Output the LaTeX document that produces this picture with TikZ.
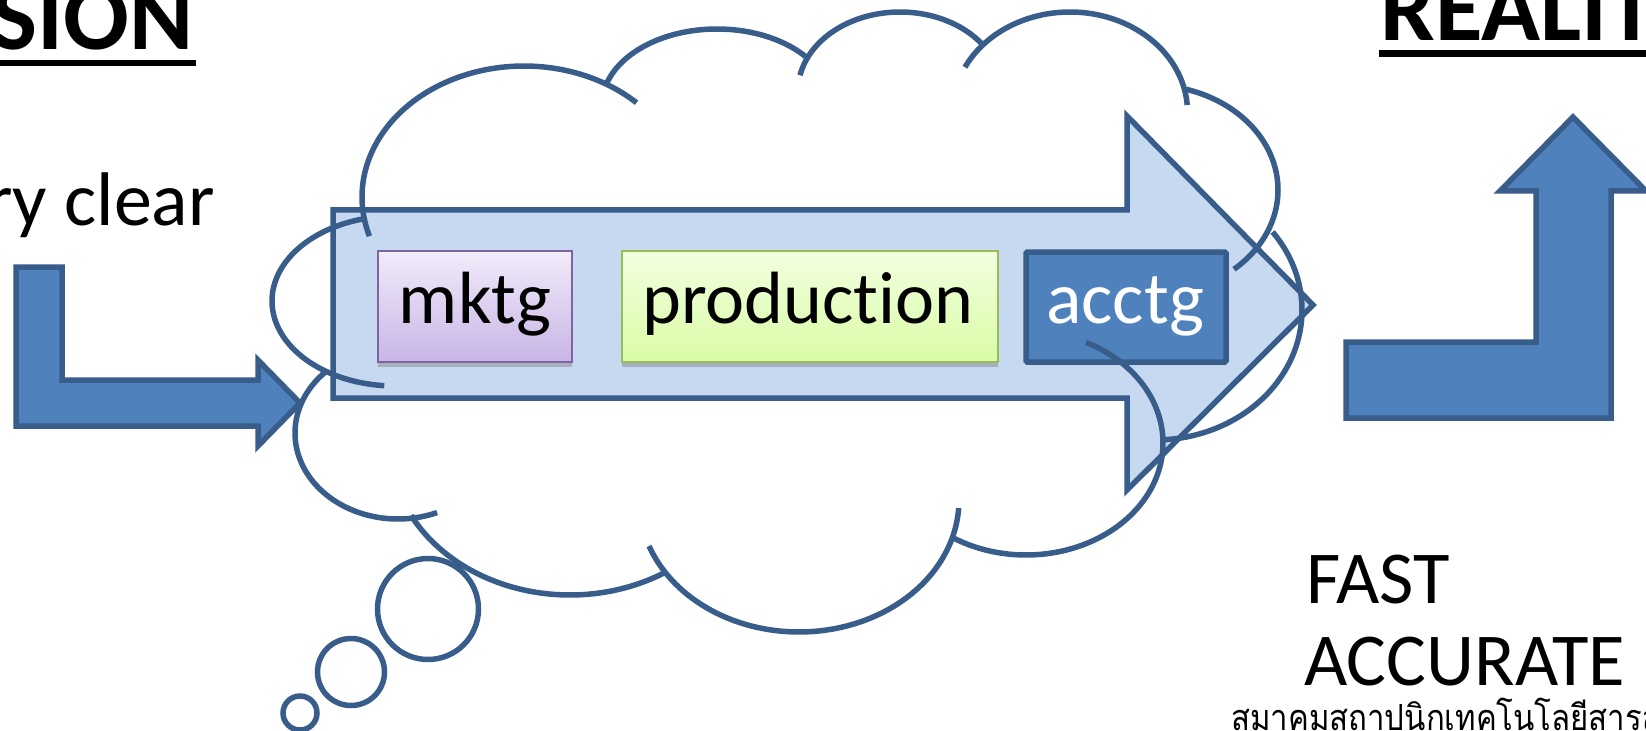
\documentclass[tikz,border=0pt]{standalone}
\usepackage{fontspec}
\setmainfont[Ligatures=NoCommon]{Carlito}
\newfontfamily\thaifont[Script=Thai,FakeStretch=0.865]{Loma}
\usetikzlibrary{shadows}
\definecolor{edgeblue}{HTML}{385D8A}
\definecolor{midblue}{HTML}{4F81BD}
\definecolor{paleblue}{HTML}{C6D9F1}
\definecolor{purpleedge}{HTML}{8064A2}
\definecolor{greenedge}{HTML}{9BBB59}
\definecolor{purpletop}{HTML}{F1EBFA}
\definecolor{purplebot}{HTML}{C9B5E6}
\definecolor{greentop}{HTML}{F2FFE0}
\definecolor{greenbot}{HTML}{D9FCA5}
\tikzset{
  blockarrow/.style={draw=edgeblue,fill=midblue,line width=5.5*0.75pt,miter limit=10},
  cloudline/.style={draw=edgeblue,line width=5.5*0.75pt},
  box/.style={line width=1.5pt,drop shadow={shadow xshift=0pt,shadow yshift=-4pt,opacity=.45}},
  boxtext/.style={inner sep=0pt,anchor=base,font=\fontsize{55.5}{60}\selectfont},
  bigtext/.style={inner sep=0pt,anchor=base west,font=\fontsize{56}{60}\selectfont},
  titletext/.style={inner sep=0pt,font=\bfseries\fontsize{73}{80}\selectfont}
}
\newcommand{\lobe}[6]{\draw[cloudline] plot[domain=#5:#6,samples=50,smooth] ({#1+#3*cos(\x)},{#2-#4*sin(\x)});}
\begin{document}
\begin{tikzpicture}[x=0.75pt,y=-0.75pt]
\useasboundingbox (0,0) rectangle (1646,731);
\clip (0,0) rectangle (1646,731);
\fill[white] (0,0) rectangle (1646,731);
% titles
\node[titletext,anchor=base east] (vision) at (194,50) {VISION};
\fill (-5,60) rectangle (196,66);
\node[titletext,anchor=base west] (reality) at (1380,41) {REALITY};
\fill (1379,50) rectangle (1650,57);
% texts
\node[inner sep=0pt,anchor=base east,font=\fontsize{57}{60}\selectfont] (clear) at (215,226) {very clear};
\node[bigtext] (fast) at (1306,603) {FAST};
\node[bigtext] (accurate) at (1304,685) {ACCURATE};
\node[inner sep=0pt,anchor=base west,font=\thaifont\fontsize{27}{30}\selectfont] (assoc) at (1231,730) {สมาคมสถาปนิกเทคโนโลยีสารสนเทศ};
% block arrows
\draw[blockarrow] (16,267) -- (62,267) -- (62,380) -- (258,380) -- (258,360) -- (300,403) -- (258,446) -- (258,426) -- (16,426) -- cycle;
\draw[blockarrow] (1346,342) -- (1536,342) -- (1536,191) -- (1500,191) -- (1573,117) -- (1646,191) -- (1611,191) -- (1611,418) -- (1346,418) -- cycle;
\draw[blockarrow,fill=paleblue] (333,210) -- (1127,210) -- (1127,116) -- (1313,305) -- (1127,490) -- (1127,398) -- (333,398) -- cycle;
% boxes
\shade[box,draw=purpleedge,top color=purpletop,bottom color=purplebot] (378,251) rectangle (572,362);
\shade[box,draw=greenedge,top color=greentop,bottom color=greenbot] (622,251) rectangle (998,362);
\draw[draw=edgeblue,fill=midblue,line width=5.5*0.75pt,rounded corners=1pt] (1026,252) rectangle (1226,362);
\node[boxtext] (mktg) at (475,323) {mktg};
\node[boxtext] (production) at (808,323) {production};
\node[boxtext,text=white] (acctg) at (1125,323) {acctg};
% cloud
\lobe{524}{197}{162}{131}{197.4}{46}
\lobe{717}{105}{115}{76}{163}{38.5}
\lobe{900}{91}{102}{79}{168.5}{35.5}
\lobe{1070}{112}{117.5}{100}{153.4}{4}
\lobe{1150}{190}{128}{105}{73.7}{-49}
\lobe{1155}{310}{147}{130}{36.9}{-87}
\lobe{1026}{443}{137}{112}{64}{-122.7}
\lobe{799}{500}{160}{132}{-3.5}{-159.6}
\lobe{570}{445}{180}{150}{-58}{-152}
\lobe{398}{433}{103}{86}{-67.7}{-225.6}
\lobe{395}{301}{123}{85}{265}{104}
\draw[cloudline] (428,609) circle[radius=50.5];
\draw[cloudline] (351,672) circle[radius=33.5];
\draw[cloudline] (300,713) circle[radius=17];
\end{tikzpicture}
\end{document}
